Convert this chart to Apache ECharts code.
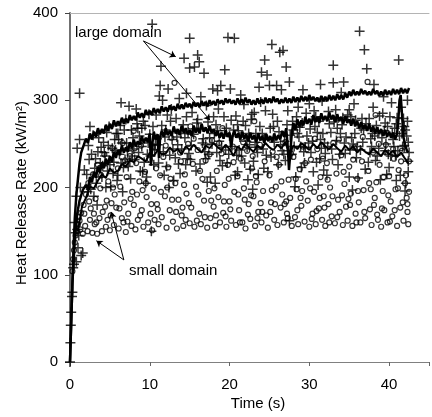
<!DOCTYPE html>
<html lang="en">
<head>
    <meta charset="UTF-8">
    <title>Heat Release Rate</title>
    <style>
        body { margin: 0; background: #fff; }
    </style>
</head>
<body>
<div id="main" style="width: 432px;height:417px;"></div>
<script src="https://cdn.jsdelivr.net/npm/echarts@6/dist/echarts.min.js"></script>
<script type="text/javascript">
    // axis ticks
    var timeTicks = [0, 10, 20, 30, 40];
    var hrrTicks = [0, 100, 200, 300, 400];

    // "+" points, large domain  [time (s), HRR (kW/m2)]
    var largeDomainPts = [
        [0, 0], [0.05, 22], [0.1, 42], [0.15, 57], [0.25, 75], [0.3, 80], [0.4, 108], [0.5, 112], [0.8, 115],
        [1.0, 131], [1.6, 125], [1.4, 122], [0.7, 148], [0.9, 152], [1.1, 145], [0.6, 160], [1.2, 308],
        [0.8, 190], [1.3, 200], [1.2, 255], [1.8, 220], [0.9, 245], [2.2, 195],
        [2.1, 215], [2.4, 232], [2.6, 198], [2.9, 260], [3.1, 222], [3.3, 205], [3.5, 241], [3.8, 228],
        [4.0, 212], [4.2, 252], [4.4, 236], [4.7, 219], [4.9, 270], [5.1, 201], [5.3, 245], [5.5, 229],
        [5.8, 262], [6.0, 214], [6.2, 238], [6.5, 251], [6.7, 223], [7.0, 278], [7.2, 242], [7.4, 293],
        [7.6, 210], [7.9, 257], [8.1, 232], [8.3, 290], [8.5, 268], [8.8, 219], [9.0, 247], [9.2, 276],
        [9.5, 205], [9.7, 238], [10.0, 261], [10.2, 150], [10.3, 387], [10.5, 226], [10.8, 283], [11.0, 249],
        [11.2, 305], [11.3, 317], [11.4, 339], [11.6, 300], [11.8, 214], [12.0, 266], [12.3, 313], [12.5, 237],
        [12.8, 255], [13.0, 208], [13.3, 279], [13.7, 302], [14.0, 244], [14.3, 348], [14.5, 226], [14.8, 263],
        [15.0, 371], [15.0, 337], [15.3, 286], [15.6, 338], [15.8, 219], [16.0, 352], [16.2, 344], [16.4, 304],
        [16.6, 251], [16.8, 331], [17.0, 233], [17.3, 275], [17.6, 212], [17.9, 313], [18.1, 262], [18.4, 240],
        [18.6, 290], [18.9, 317], [19.1, 225], [19.4, 335], [19.6, 268], [19.8, 372], [20.1, 313], [20.3, 247],
        [20.6, 371], [20.8, 282], [21.0, 218], [21.3, 258], [21.5, 236], [21.8, 295], [22.0, 271], [22.3, 209],
        [22.5, 249], [22.8, 284], [23.0, 230], [23.3, 262], [23.6, 215], [23.9, 298], [24.0, 332], [24.2, 244],
        [24.4, 346], [24.7, 329], [25.0, 317], [25.3, 364], [25.5, 270], [25.9, 317], [26.1, 226], [26.3, 355],
        [26.5, 312], [26.7, 357], [26.9, 253], [27.1, 338], [27.3, 288], [27.5, 321], [27.5, 162], [27.8, 238],
        [28.0, 266], [28.3, 212], [28.6, 292], [28.9, 247], [29.1, 274], [29.4, 228], [29.7, 259], [30.0, 296],
        [30.2, 240], [30.5, 218], [30.8, 281], [31.0, 263], [31.3, 233], [31.6, 299], [31.9, 251], [32.2, 214],
        [32.5, 273], [32.8, 244], [33.0, 340], [33.0, 320], [33.3, 289], [33.6, 226], [33.9, 262], [34.3, 321],
        [34.5, 239], [34.8, 283], [35.0, 212], [35.3, 257], [35.6, 296], [35.9, 234], [36.3, 379], [36.5, 268],
        [36.9, 358], [37.0, 221], [37.2, 336], [37.5, 279], [37.8, 247], [38.0, 292], [38.3, 231], [38.6, 264],
        [38.9, 209], [39.2, 285], [39.5, 242], [39.8, 270], [40.0, 223], [40.3, 297], [40.5, 255], [40.8, 237],
        [41.0, 280], [41.2, 346], [41.4, 214], [41.6, 262], [41.9, 248], [42.1, 205], [42.3, 276], [42.4, 230],
        [2.3, 248], [3.0, 190], [3.6, 257], [4.5, 200], [5.0, 226], [5.7, 243], [6.3, 271], [6.9, 232],
        [7.7, 266], [8.6, 240], [9.3, 229], [9.9, 284], [10.6, 243], [11.5, 271], [12.1, 224], [12.7, 290],
        [13.5, 249], [14.2, 272], [14.9, 239], [15.5, 261], [16.3, 227], [17.1, 294], [17.8, 250], [18.8, 231],
        [19.3, 281], [20.0, 259], [20.9, 237], [21.7, 276], [22.6, 221], [23.4, 246], [24.5, 288], [25.2, 235],
        [26.0, 276], [26.6, 242], [27.6, 260], [28.4, 281], [29.0, 223], [29.9, 251], [30.7, 270], [31.5, 245],
        [32.4, 287], [33.4, 254], [34.1, 272], [35.1, 243], [35.8, 277], [36.7, 252], [37.4, 229], [38.4, 271],
        [39.1, 257], [39.9, 238], [40.7, 268], [41.5, 292], [42.2, 259], [42.5, 240],
        [3.4, 180], [6.6, 195], [12.4, 200], [18.2, 205], [22.9, 198], [31.1, 203], [35.4, 197], [40.9, 208], [42.4, 218],
        [2.7, 238], [3.9, 246], [4.6, 263], [5.4, 216], [6.1, 255], [6.8, 266], [7.3, 224], [8.0, 244],
        [8.7, 259], [9.4, 271], [10.1, 236], [10.9, 256], [11.7, 241], [12.6, 276], [13.2, 234], [13.9, 262],
        [14.6, 281], [15.2, 248], [16.1, 268], [16.9, 241], [17.5, 257], [18.3, 272], [19.0, 246], [19.7, 228],
        [20.5, 266], [21.2, 243], [22.1, 253], [22.7, 278], [23.5, 240], [24.1, 262], [24.8, 218], [25.6, 252],
        [26.2, 264], [27.0, 231], [27.9, 276], [28.7, 258], [29.3, 241], [30.1, 267], [30.9, 229], [31.7, 262],
        [32.3, 247], [33.1, 275], [33.8, 238], [34.6, 258], [35.2, 281], [36.0, 247], [36.8, 266], [37.6, 240],
        [38.2, 259], [38.8, 282], [39.6, 250], [40.2, 236], [40.9, 273], [41.7, 247], [42.0, 266],
        [2.5, 270], [3.2, 233], [4.1, 225], [4.8, 248], [5.6, 255], [6.4, 228], [7.1, 251], [7.8, 236],
        [8.4, 273], [9.1, 218], [9.8, 251], [10.4, 270], [11.1, 228], [11.9, 258], [12.9, 244], [13.6, 227],
        [14.4, 257], [15.1, 232], [15.9, 274], [16.7, 256], [17.4, 238], [18.0, 281], [18.7, 253], [19.5, 243],
        [20.2, 277], [21.1, 265], [21.9, 228], [22.4, 262], [23.2, 252], [23.8, 270], [24.6, 237], [25.4, 284],
        [26.4, 249], [27.2, 272], [28.1, 247], [28.8, 269], [29.6, 285], [30.4, 253], [31.2, 276], [32.0, 239],
        [32.7, 263], [33.5, 268], [34.4, 251], [35.0, 289], [35.7, 262], [36.4, 243], [37.1, 273], [37.9, 262],
        [38.7, 245], [39.4, 265], [40.1, 281], [40.6, 247], [41.3, 259], [41.8, 279], [42.4, 252],
        [5.9, 208], [9.6, 212], [13.8, 216], [17.2, 206], [20.7, 214], [24.3, 222], [28.2, 201], [31.8, 220],
        [36.1, 211], [39.7, 215], [42.0, 196],
        [6.4, 297], [14.6, 308], [18.5, 311], [21.4, 306], [23.7, 315], [29.2, 312], [31.4, 318], [34.0, 309],
        [38.1, 318], [39.3, 304], [42.3, 300],
        [4.3, 240], [6.0, 262], [7.5, 230], [9.0, 268], [10.7, 250], [12.2, 283], [13.4, 258], [14.7, 233],
        [16.0, 278], [17.0, 249], [18.5, 265], [19.9, 238], [21.0, 272], [22.2, 246], [23.1, 286], [24.4, 255],
        [25.1, 268], [26.8, 238], [28.5, 262], [29.5, 246], [30.6, 288], [31.4, 255], [32.9, 232], [34.2, 280],
        [35.5, 250], [36.6, 279], [37.7, 256], [38.5, 236], [39.5, 274], [40.4, 262], [41.1, 242], [41.9, 270]
    ];

    // "o" points, small domain  [time (s), HRR (kW/m2)]
    var smallDomainPts = [
        [0.3, 104], [0.4, 118], [0.5, 128], [0.6, 137], [0.7, 145], [0.9, 150], [1.0, 158], [1.1, 166],
        [1.3, 152], [1.4, 171], [1.6, 147], [1.7, 180], [1.9, 156], [2.0, 192], [2.2, 150], [2.3, 205],
        [2.5, 163], [2.6, 176], [2.8, 148], [2.9, 215], [3.1, 158], [3.2, 187], [3.4, 147], [3.5, 226],
        [3.7, 165], [3.8, 199], [4.0, 150], [4.1, 172], [4.3, 238], [4.5, 155], [4.6, 185], [4.8, 207],
        [5.0, 151], [5.1, 168], [5.3, 245], [5.5, 157], [5.6, 192], [5.8, 177], [6.0, 222], [6.1, 153],
        [6.3, 201], [6.5, 165], [6.6, 251], [6.8, 183], [7.0, 149], [7.1, 212], [7.3, 170], [7.5, 236],
        [7.7, 156], [7.8, 195], [8.0, 180], [8.2, 152], [8.3, 228], [8.5, 163], [8.7, 207], [8.9, 248],
        [9.0, 174], [9.2, 155], [9.4, 218], [9.6, 189], [9.8, 160], [10.0, 232], [10.1, 170], [10.3, 151],
        [10.5, 199], [10.7, 246], [10.9, 181], [11.1, 158], [11.3, 214], [11.5, 166], [11.7, 235], [11.9, 190],
        [12.1, 154], [12.3, 223], [12.5, 174], [12.7, 257], [12.9, 161], [13.1, 320], [13.2, 205], [13.4, 153],
        [13.6, 186], [13.8, 240], [14.0, 168], [14.2, 156], [14.4, 215], [14.6, 193], [14.8, 250], [15.0, 159],
        [15.2, 177], [15.4, 227], [15.6, 155], [15.8, 201], [16.0, 243], [16.2, 170], [16.4, 158], [16.6, 210],
        [16.8, 185], [17.0, 231], [17.2, 154], [17.4, 196], [17.6, 165], [17.8, 254], [18.0, 178], [18.2, 156],
        [18.4, 219], [18.6, 189], [18.8, 160], [19.0, 239], [19.2, 171], [19.4, 203], [19.6, 155], [19.8, 226],
        [20.0, 184], [20.2, 162], [20.4, 247], [20.6, 195], [20.8, 157], [21.0, 213], [21.2, 174], [21.4, 233],
        [21.6, 160], [21.8, 199], [22.0, 153], [22.2, 242], [22.4, 181], [22.6, 164], [22.8, 222], [23.0, 190],
        [23.2, 156], [23.4, 206], [23.6, 172], [23.8, 249], [24.0, 160], [24.2, 196], [24.4, 230], [24.6, 168],
        [24.8, 154], [25.0, 214], [25.2, 183], [25.4, 241], [25.6, 163], [25.8, 201], [26.0, 157], [26.2, 226],
        [26.4, 177], [26.6, 192], [26.8, 160], [27.0, 252], [27.2, 170], [27.4, 209], [27.6, 188], [27.8, 156],
        [28.0, 235], [28.2, 166], [28.4, 198], [28.6, 158], [28.8, 221], [29.0, 179], [29.2, 247], [29.4, 161],
        [29.6, 207], [29.8, 185], [30.0, 155], [30.2, 232], [30.4, 170], [30.6, 195], [30.8, 158], [31.0, 244],
        [31.2, 176], [31.4, 212], [31.6, 163], [31.8, 190], [32.0, 156], [32.2, 228], [32.4, 181], [32.6, 200],
        [32.8, 167], [33.0, 251], [33.2, 159], [33.4, 216], [33.6, 186], [33.8, 172], [34.0, 237], [34.2, 157],
        [34.4, 204], [34.6, 178], [34.8, 162], [35.0, 224], [35.2, 193], [35.4, 156], [35.6, 246], [35.8, 170],
        [36.0, 210], [36.2, 183], [36.4, 160], [36.6, 230], [36.8, 197], [37.0, 165], [37.3, 321], [37.4, 219],
        [37.6, 175], [37.8, 157], [38.0, 240], [38.2, 188], [38.4, 206], [38.6, 163], [38.8, 226], [39.0, 155],
        [39.2, 196], [39.4, 174], [39.6, 249], [39.8, 160], [40.0, 213], [40.2, 184], [40.4, 167], [40.6, 233],
        [40.8, 198], [41.0, 156], [41.2, 220], [41.4, 177], [41.6, 242], [41.8, 162], [42.0, 205], [42.2, 188],
        [42.4, 158], [42.5, 230],
        [3.0, 170], [5.2, 182], [7.2, 161], [9.1, 197], [11.0, 175], [12.8, 186], [14.5, 163], [16.1, 192],
        [18.3, 168], [20.1, 175], [21.9, 186], [23.5, 165], [25.1, 172], [26.9, 181], [28.5, 174], [30.3, 164],
        [31.9, 177], [33.5, 166], [35.1, 180], [36.9, 172], [38.5, 169], [40.1, 161], [41.7, 183], [42.3, 172],
        [1.2, 162], [2.4, 184], [3.3, 160], [3.9, 214], [4.7, 163], [5.4, 200], [6.2, 176], [6.9, 231],
        [7.6, 187], [8.1, 245], [8.8, 168], [9.5, 205], [10.2, 181], [10.8, 222], [11.4, 195], [12.0, 248],
        [12.6, 210], [13.3, 172], [13.9, 230], [14.3, 203], [14.9, 182], [15.5, 256], [16.3, 219], [16.9, 166],
        [17.5, 238], [18.1, 199], [18.7, 251], [19.3, 184], [19.9, 210], [20.5, 229], [21.1, 192], [21.7, 252],
        [22.3, 169], [22.9, 236], [23.3, 213], [23.9, 182], [24.5, 258], [25.3, 197], [25.9, 235], [26.5, 207],
        [27.1, 184], [27.7, 239], [28.3, 210], [28.9, 188], [29.5, 228], [30.1, 199], [30.7, 256], [31.3, 188],
        [31.7, 233], [32.3, 209], [32.9, 190], [33.7, 255], [34.3, 218], [34.9, 187], [35.5, 232], [36.1, 196],
        [36.7, 258], [37.5, 205], [38.1, 180], [38.7, 250], [39.3, 212], [39.9, 191], [40.5, 244], [41.1, 199],
        [41.5, 230], [42.1, 214], [42.5, 195],
        [1.8, 170], [4.4, 178], [6.7, 160], [8.4, 192], [10.6, 163], [12.2, 200], [14.1, 177], [15.9, 162],
        [17.7, 185], [19.5, 167], [21.3, 160], [22.7, 191], [24.1, 172], [25.7, 181], [27.3, 165], [29.1, 196],
        [30.9, 173], [32.5, 160], [34.1, 191], [35.9, 160], [37.7, 198], [39.1, 176], [40.7, 174], [42.3, 181],
        [8.0, 265], [15.1, 270], [19.1, 268], [23.1, 276], [28.7, 272], [33.3, 279], [38.3, 283], [41.9, 268]
    ];

    // thick curves
    var upperCurve = [
        [0, 0], [0.2, 60], [0.4, 120], [0.6, 165], [0.8, 192], [1.0, 210], [1.2, 228], [1.4, 240], [1.7, 248],
        [2.0, 256], [2.25, 251], [2.5, 262], [2.75, 255], [3.0, 264], [3.25, 258], [3.5, 268], [3.75, 261],
        [4.0, 267], [4.25, 262], [4.5, 272], [4.75, 265], [5.0, 273], [5.25, 267], [5.5, 277], [5.75, 270],
        [6.0, 276], [6.25, 271], [6.5, 280], [6.75, 273], [7.0, 279], [7.25, 274], [7.5, 283], [7.75, 277],
        [8.0, 282], [8.25, 277], [8.5, 286], [8.75, 280], [9.0, 285], [9.25, 280], [9.5, 289], [9.75, 283],
        [10.0, 288], [10.25, 283], [10.5, 291], [10.75, 285], [11.0, 290], [11.25, 285], [11.5, 293], [11.75, 287],
        [12.0, 292], [12.25, 287], [12.5, 294], [12.75, 289], [13.0, 293], [13.25, 288], [13.5, 296], [13.75, 290],
        [14.0, 295], [14.25, 290], [14.5, 297], [14.75, 292], [15.0, 296], [15.25, 291], [15.5, 298], [15.75, 293],
        [16.0, 297], [16.25, 292], [16.5, 299], [16.75, 294], [17.0, 298], [17.25, 293], [17.5, 300], [17.75, 295],
        [18.0, 299], [18.25, 294], [18.5, 301], [18.75, 296], [19.0, 300], [19.25, 295], [19.5, 302], [19.75, 297],
        [20.0, 301], [20.25, 296], [20.5, 300], [20.75, 295], [21.0, 302], [21.25, 296], [21.5, 301], [21.75, 296],
        [22.0, 303], [22.25, 297], [22.5, 301], [22.75, 295], [23.0, 300], [23.25, 295], [23.5, 302], [23.75, 296],
        [24.0, 301], [24.25, 296], [24.5, 303], [24.75, 297], [25.0, 302], [25.25, 297], [25.5, 304], [25.75, 298],
        [26.0, 302], [26.25, 296], [26.5, 301], [26.75, 297], [27.0, 303], [27.25, 297], [27.5, 302], [27.75, 297],
        [28.0, 304], [28.25, 298], [28.5, 303], [28.75, 298], [29.0, 305], [29.25, 299], [29.5, 304], [29.75, 299],
        [30.0, 306], [30.25, 300], [30.5, 304], [30.75, 299], [31.0, 303], [31.25, 298], [31.5, 305], [31.75, 299],
        [32.0, 304], [32.25, 299], [32.5, 306], [32.75, 300], [33.0, 305], [33.25, 300], [33.5, 307], [33.75, 301],
        [34.0, 306], [34.25, 301], [34.5, 308], [34.75, 303], [35.0, 310], [35.25, 305], [35.5, 312], [35.75, 306],
        [36.0, 310], [36.25, 306], [36.5, 313], [36.75, 307], [37.0, 311], [37.25, 306], [37.5, 310], [37.75, 306],
        [38.0, 313], [38.25, 307], [38.5, 311], [38.75, 305], [39.0, 310], [39.25, 305], [39.5, 312], [39.75, 306],
        [40.0, 311], [40.25, 306], [40.5, 313], [40.75, 307], [41.0, 312], [41.25, 307], [41.5, 314], [41.75, 308],
        [42.0, 313], [42.25, 308], [42.5, 314]
    ];
    var middleCurve = [
        [0, 0], [0.3, 90], [0.6, 140], [0.9, 170], [1.2, 185], [1.6, 197],
        [2.0, 203], [2.25, 198], [2.5, 212], [2.75, 206], [3.0, 218], [3.25, 211], [3.5, 224], [3.75, 217],
        [4.0, 229], [4.25, 222], [4.5, 233], [4.75, 226], [5.0, 236], [5.25, 229], [5.5, 241], [5.75, 234],
        [6.0, 243], [6.25, 237], [6.5, 248], [6.75, 240], [7.0, 246], [7.25, 241], [7.5, 252], [7.75, 245],
        [8.0, 255], [8.25, 247], [8.5, 253], [8.75, 249], [9.0, 259], [9.25, 251], [9.5, 257], [9.75, 252],
        [10.0, 262], [10.15, 225], [10.3, 248], [10.5, 264], [10.75, 255], [11.0, 261], [11.15, 234], [11.3, 258],
        [11.5, 265], [11.75, 258], [12.0, 268], [12.25, 260], [12.5, 265], [12.75, 259], [13.0, 270], [13.25, 262],
        [13.5, 267], [13.75, 260], [14.0, 271], [14.25, 263], [14.5, 268], [14.75, 261], [15.0, 266], [15.25, 259],
        [15.5, 271], [15.75, 263], [16.0, 268], [16.25, 262], [16.5, 273], [16.75, 264], [17.0, 269], [17.25, 262],
        [17.5, 271], [17.75, 263], [18.0, 267], [18.25, 259], [18.5, 265], [18.75, 257], [19.0, 263], [19.25, 256],
        [19.5, 266], [19.75, 258], [20.0, 263], [20.2, 246], [20.4, 260], [20.6, 265], [20.85, 257], [21.1, 262],
        [21.35, 255], [21.6, 264], [21.85, 256], [22.1, 261], [22.35, 253], [22.6, 263], [22.85, 255], [23.1, 260],
        [23.35, 252], [23.6, 262], [23.85, 254], [24.1, 259], [24.35, 251], [24.6, 261], [24.85, 253], [25.1, 259],
        [25.35, 252], [25.6, 262], [25.85, 254], [26.1, 260], [26.35, 255], [26.6, 265], [26.85, 258], [27.1, 268],
        [27.3, 246], [27.45, 220], [27.6, 238], [27.8, 262], [28.0, 274], [28.25, 266], [28.5, 278], [28.75, 270],
        [29.0, 277], [29.25, 271], [29.5, 281], [29.75, 273], [30.0, 279], [30.25, 272], [30.5, 283], [30.75, 275],
        [31.0, 281], [31.25, 274], [31.5, 285], [31.75, 277], [32.0, 282], [32.25, 276], [32.5, 286], [32.75, 278],
        [33.0, 283], [33.25, 275], [33.5, 284], [33.75, 276], [34.0, 281], [34.25, 273], [34.5, 282], [34.75, 274],
        [35.0, 278], [35.25, 271], [35.5, 279], [35.75, 270], [36.0, 276], [36.25, 268], [36.5, 275], [36.75, 267],
        [37.0, 272], [37.25, 265], [37.5, 273], [37.75, 264], [38.0, 270], [38.25, 262], [38.5, 269], [38.75, 261],
        [39.0, 267], [39.25, 259], [39.5, 266], [39.75, 258], [40.0, 264], [40.25, 257], [40.5, 263], [40.75, 255],
        [41.0, 262], [41.15, 276], [41.3, 300], [41.45, 306], [41.6, 286], [41.8, 258], [42.0, 249], [42.2, 243],
        [42.4, 240]
    ];
    var lowerCurve = [
        [1.0, 150], [1.5, 178], [2.0, 188], [2.5, 201], [3.0, 199], [3.5, 208], [4.0, 215], [4.5, 211],
        [5.0, 222], [5.5, 217], [6.0, 219], [6.5, 227], [7.0, 224], [7.5, 231], [8.0, 229], [8.5, 236],
        [9.0, 233], [9.5, 230], [10.0, 240], [10.5, 236], [11.0, 243], [11.5, 238], [12.0, 239], [12.5, 246],
        [13.0, 241], [13.5, 244], [14.0, 238], [14.5, 247], [15.0, 243], [15.5, 249], [16.0, 244], [16.5, 240],
        [17.0, 248], [17.5, 245], [18.0, 251], [18.5, 246], [19.0, 243], [19.5, 249], [20.0, 244], [20.5, 236],
        [21.0, 247], [21.5, 243], [22.0, 250], [22.5, 245], [23.0, 241], [23.5, 248], [24.0, 244], [24.5, 251],
        [25.0, 246], [25.5, 243], [26.0, 249], [26.5, 245], [27.0, 252], [27.5, 238], [28.0, 248], [28.5, 244],
        [29.0, 251], [29.5, 247], [30.0, 243], [30.5, 250], [31.0, 245], [31.5, 252], [32.0, 247], [32.5, 244],
        [33.0, 250], [33.5, 245], [34.0, 241], [34.5, 248], [35.0, 243], [35.5, 247], [36.0, 240], [36.5, 245],
        [37.0, 241], [37.5, 238], [38.0, 245], [38.5, 240], [39.0, 236], [39.5, 243], [40.0, 238], [40.5, 242],
        [41.0, 235], [41.5, 240], [42.0, 233], [42.4, 228]
    ];

    // annotation arrows, in data units: [from, to]
    var largeArrows = [[[9.2, 368], [13.25, 350]], [[9.2, 368], [17.55, 277]]];
    var smallArrows = [[[6.75, 117], [3.31, 139]], [[6.75, 117], [5.15, 172]]];

    var FONT = 'Liberation Sans, Arial, sans-serif';
    var plusPath = 'path://M0,5L10,5M5,0L5,10';

    function arrowData(list) {
        return list.map(function (a) {
            return [{coord: a[0]}, {coord: a[1]}];
        });
    }

    function curve(name, data, width) {
        return {
            name: name,
            type: 'line',
            data: data,
            showSymbol: false,
            lineStyle: {color: '#000', width: width},
            z: 4
        };
    }

    var myChart = echarts.init(document.getElementById('main'));
    myChart.setOption({
        animation: false,
        backgroundColor: '#fff',
        grid: {left: 70, top: 13, width: 367, height: 349},
        xAxis: [{
            type: 'value',
            min: timeTicks[0],
            max: 45,
            interval: 10,
            axisLine: {lineStyle: {color: '#808080', width: 1}},
            axisTick: {show: true, length: 4, lineStyle: {color: '#666'}},
            axisLabel: {
                fontFamily: FONT, fontSize: 15, color: '#000', margin: 15,
                formatter: function (v) { return timeTicks.indexOf(v) >= 0 ? v : ''; }
            },
            splitLine: {show: false}
        }, {
            type: 'value',
            position: 'top',
            min: 0,
            max: 45,
            axisLine: {show: true, lineStyle: {color: '#b4b4b4', width: 1}},
            axisTick: {show: false},
            axisLabel: {show: false},
            splitLine: {show: false}
        }],
        yAxis: {
            type: 'value',
            min: hrrTicks[0],
            max: hrrTicks[hrrTicks.length - 1],
            interval: 100,
            axisLine: {show: true, lineStyle: {color: '#707070', width: 2}},
            axisTick: {show: true, length: 5, lineStyle: {color: '#444'}},
            axisLabel: {fontFamily: FONT, fontSize: 15, color: '#000', margin: 12},
            splitLine: {show: false}
        },
        graphic: [
            {type: 'text', x: 258, y: 404, style: {text: 'Time (s)', font: '15px ' + FONT, fill: '#000', align: 'center', verticalAlign: 'middle'}},
            {type: 'text', x: 22, y: 193, rotation: Math.PI / 2, style: {text: 'Heat Release Rate (kW/m²)', font: '15px ' + FONT, fill: '#000', align: 'center', verticalAlign: 'middle'}},
            {type: 'text', x: 75, y: 33, z: 100, style: {text: 'large domain', font: '15px ' + FONT, fill: '#000', align: 'left', verticalAlign: 'middle'}},
            {type: 'text', x: 129, y: 271, z: 100, style: {text: 'small domain', font: '15px ' + FONT, fill: '#000', align: 'left', verticalAlign: 'middle'}}
        ],
        series: [{
            name: 'small domain',
            type: 'scatter',
            data: smallDomainPts,
            symbol: 'circle',
            symbolSize: 5,
            itemStyle: {color: 'rgba(255,255,255,0)', borderColor: '#000', borderWidth: 1.2},
            z: 2,
            markLine: {
                silent: true,
                symbol: ['none', 'arrow'],
                symbolSize: 6,
                label: {show: false},
                lineStyle: {color: '#000', width: 1, type: 'solid'},
                data: arrowData(smallArrows)
            }
        }, {
            name: 'large domain',
            type: 'scatter',
            data: largeDomainPts,
            symbol: plusPath,
            symbolSize: 10,
            itemStyle: {color: 'rgba(255,255,255,0)', borderColor: '#000', borderWidth: 1.5},
            z: 3,
            markLine: {
                silent: true,
                symbol: ['none', 'arrow'],
                symbolSize: 6,
                label: {show: false},
                lineStyle: {color: '#000', width: 1, type: 'solid'},
                data: arrowData(largeArrows)
            }
        },
            curve('upper curve', upperCurve, 2.5),
            curve('middle curve', middleCurve, 2.5),
            curve('lower curve', lowerCurve, 2)
        ]
    });
</script>
</body>
</html>
